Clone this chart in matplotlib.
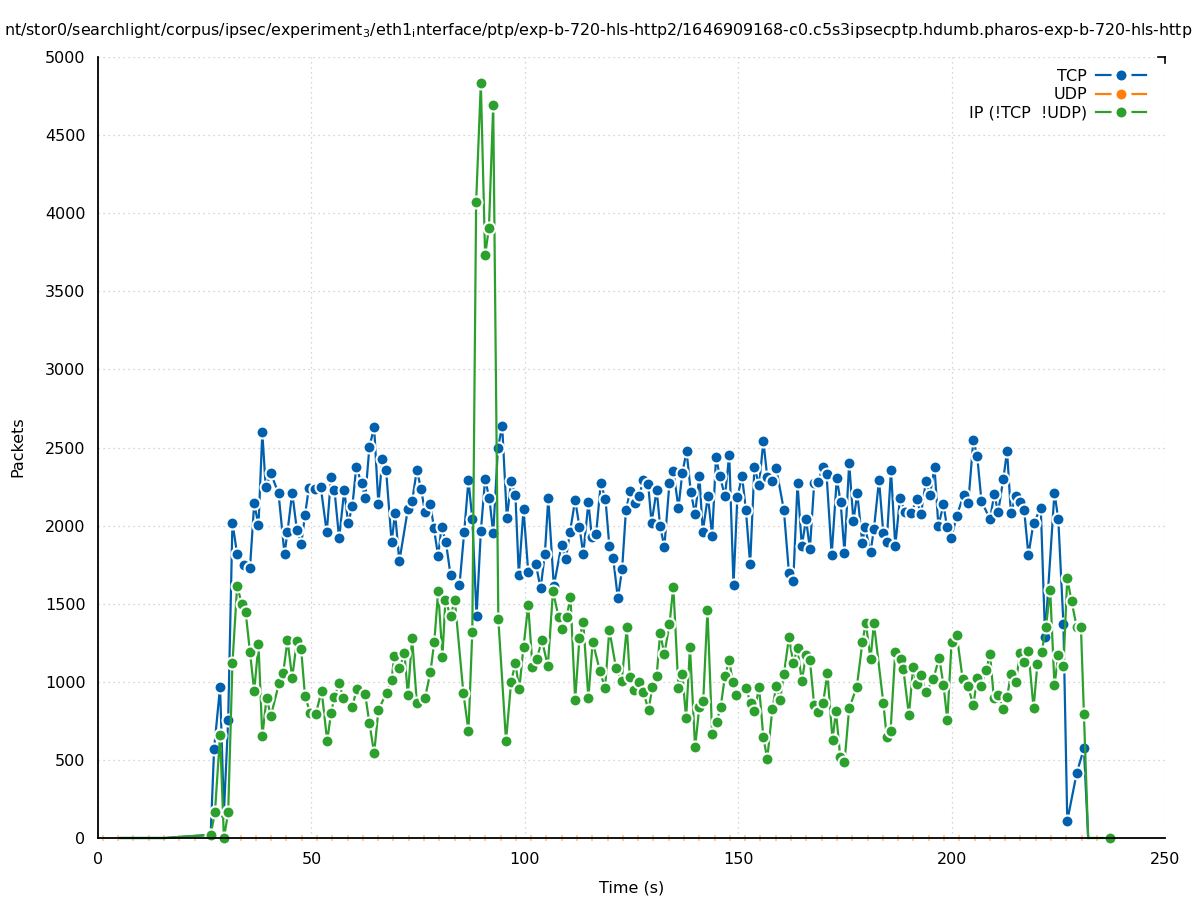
import matplotlib
matplotlib.use("Agg")
import matplotlib.pyplot as plt
from matplotlib.lines import Line2D
import numpy as np

# values (time in s, packets per sample)
tcp_t = [5.2, 15.7, 26.4, 27.2, 28.6, 29.5, 30.5, 31.5, 32.6, 34.1, 35.6, 36.6, 37.6, 38.5,
         39.3, 40.5, 42.3, 43.7, 44.4, 45.5, 46.6, 47.6, 48.5, 49.4, 50.8, 52.2, 53.6, 54.6,
         55.4, 56.5, 57.7, 58.6, 59.6, 60.5, 61.8, 62.6, 63.6, 64.7, 65.7, 66.6, 67.5, 68.8,
         69.6, 70.6, 72.6, 73.6, 74.7, 75.7, 76.6, 77.9, 78.7, 79.7, 80.5, 81.5, 82.6, 84.7,
         85.8, 86.8, 87.7, 88.7, 89.7, 90.7, 91.7, 92.6, 93.7, 94.7, 95.8, 96.8, 97.8, 98.6,
         99.7, 100.8, 102.6, 103.7, 104.7, 105.5, 106.8, 108.6, 109.6, 110.6, 111.8, 112.8,
         113.7, 114.9, 115.7, 116.7, 117.8, 118.9, 119.8, 120.7, 121.8, 122.8, 123.7, 124.7,
         125.8, 126.8, 127.8, 128.9, 129.7, 130.9, 131.7, 132.7, 133.9, 134.8, 136.0, 136.9,
         137.9, 138.9, 139.9, 140.9, 141.7, 142.9, 143.9, 144.8, 145.7, 146.9, 147.9, 148.9,
         149.8, 150.9, 151.8, 152.8, 153.8, 154.9, 155.9, 156.8, 158.0, 158.9, 160.7, 161.9,
         162.9, 163.9, 164.9, 165.9, 166.8, 167.8, 168.8, 169.8, 170.7, 171.9, 173.1, 174.0,
         174.9, 176.0, 177.0, 177.9, 179.1, 179.7, 181.0, 181.8, 183.0, 184.0, 184.8, 185.8,
         186.8, 187.9, 189.1, 190.6, 191.8, 192.8, 194.0, 194.9, 196.0, 196.9, 198.1, 198.9,
         199.9, 201.2, 202.8, 203.9, 205.1, 206.0, 207.0, 209.0, 210.0, 210.9, 212.1, 213.0,
         213.9, 215.0, 216.0, 217.0, 218.0, 219.2, 220.9, 221.9, 224.1, 225.0, 226.2, 227.1,
         229.3, 231.0, 232.0]
tcp_v = [0, 0, 20, 570, 967, 160, 753, 2019, 1818, 1748, 1726, 2142, 2002, 2597,
         2245, 2334, 2206, 1818, 1961, 2211, 1972, 1882, 2066, 2241, 2235, 2245, 1957, 2309,
         2228, 1918, 2228, 2014, 2125, 2373, 2270, 2177, 2505, 2629, 2136, 2424, 2356, 1893,
         2083, 1771, 2104, 2157, 2356, 2234, 2089, 2137, 1982, 1805, 1993, 1897, 1684, 1620,
         1957, 2292, 2040, 1421, 1965, 2296, 2174, 1950, 2495, 2638, 2046, 2285, 2196, 1684,
         2104, 1705, 1752, 1598, 1818, 2174, 1613, 1876, 1784, 1961, 2164, 1993,
         1818, 2149, 1929, 1944, 2270, 2170, 1871, 1795, 1534, 1720, 2100, 2221,
         2142, 2191, 2292, 2266, 2019, 2228, 1997, 1865, 2275, 2352, 2115, 2334,
         2477, 2213, 2074, 2320, 1961, 2189, 1935, 2437, 2317, 2189, 2452, 1620,
         2181, 2317, 2100, 1754, 2373, 2260, 2541, 2313, 2288, 2367, 2100, 1694,
         1645, 2270, 1871, 2040, 1850, 2270, 2281, 2377, 2330, 1812, 2302, 2149,
         1827, 2398, 2029, 2206, 1886, 1993, 1829, 1978, 2292, 1950, 1897, 2356,
         1869, 2174, 2089, 2083, 2170, 2072, 2285, 2196, 2373, 1997, 2136, 1993,
         1918, 2061, 2196, 2142, 2548, 2445, 2157, 2040, 2202, 2085, 2296, 2477,
         2078, 2189, 2153, 2100, 1812, 2019, 2110, 1290, 2211, 2040, 1370, 109,
         414, 574, 0]

ip_t = [5.2, 15.7, 26.4, 27.4, 28.6, 29.5, 30.5, 31.5, 32.6, 33.7, 34.6, 35.6, 36.6, 37.6,
        38.5, 39.5, 40.5, 42.4, 43.4, 44.4, 45.5, 46.6, 47.6, 48.5, 49.7, 51.0, 52.4, 53.7,
        54.6, 55.4, 56.5, 57.5, 59.6, 60.6, 62.6, 63.6, 64.7, 65.7, 67.6, 68.8, 69.4, 70.6,
        71.8, 72.6, 73.6, 74.7, 76.6, 77.9, 78.8, 79.7, 80.7, 81.4, 82.6, 83.6, 85.6, 86.8,
        87.7, 88.6, 89.7, 90.7, 91.6, 92.6, 93.8, 95.6, 96.8, 97.8, 98.7, 99.7, 100.8, 101.8,
        102.8, 104.0, 105.4, 106.6, 107.9, 108.8, 109.8, 110.7, 111.8, 112.8, 113.7, 114.9,
        115.9, 117.6, 118.8, 119.8, 121.4, 122.7, 123.9, 124.6, 125.7, 126.8, 127.8, 129.0,
        129.9, 130.9, 131.7, 132.7, 133.9, 134.8, 136.0, 136.9, 137.8, 138.7, 139.9, 140.9,
        141.8, 142.8, 143.9, 145.0, 145.9, 146.9, 147.9, 148.7, 149.6, 151.8, 152.9, 153.8,
        154.9, 155.9, 156.8, 158.0, 158.9, 159.8, 160.7, 161.9, 162.9, 163.9, 164.9, 165.9,
        166.8, 167.8, 168.8, 169.9, 170.9, 172.1, 172.9, 173.9, 174.9, 176.0, 177.8, 179.1,
        179.9, 181.0, 181.8, 184.0, 184.8, 185.7, 186.8, 188.1, 188.7, 190.0, 191.0, 191.8,
        192.8, 194.0, 195.7, 197.1, 198.1, 199.0, 200.0, 201.2, 202.6, 203.8, 205.1, 206.0,
        206.9, 208.1, 209.0, 209.9, 210.9, 212.1, 213.0, 213.9, 215.1, 216.0, 217.0, 218.0,
        219.2, 220.1, 221.1, 222.1, 223.1, 224.1, 225.0, 226.2, 227.1, 228.1, 229.3, 230.3,
        231.0, 232.0, 237.1]
ip_v = [0, 0, 21, 164, 659, 0, 164, 1118, 1613, 1498, 1445, 1193, 941, 1240,
        651, 898, 781, 990, 1058, 1267, 1026, 1261, 1208, 909, 802, 793, 941, 621,
        798, 905, 990, 894, 841, 952, 920, 734, 542, 819, 930, 1011, 1165, 1086,
        1182, 915, 1278, 866, 894, 1065, 1257, 1583, 1161, 1524, 1421, 1524, 930, 685,
        1321, 4072, 4834, 3732, 3905, 4693, 1400, 621, 1001, 1118, 952, 1225, 1489, 1097,
        1144, 1268, 1101, 1580, 1417, 1336, 1417, 1541, 883, 1278, 1381, 894,
        1257, 1069, 958, 1332, 1086, 1005, 1348, 1033, 947, 1001, 932, 819,
        969, 1037, 1310, 1178, 1368, 1609, 958, 1050, 766, 1221, 580, 841,
        877, 1460, 664, 745, 841, 1037, 1139, 1001, 915, 958, 866, 813,
        964, 644, 506, 824, 973, 883, 1048, 1285, 1122, 1214, 1005, 1171,
        1139, 851, 809, 866, 1054, 627, 813, 521, 484, 830, 969, 1253,
        1379, 1144, 1374, 866, 649, 685, 1193, 1144, 1080, 787, 1097, 986,
        1043, 932, 1016, 1154, 980, 755, 1257, 1300, 1016, 973, 851, 1022,
        973, 1075, 1178, 894, 915, 826, 903, 1050, 1001, 1182, 1129, 1199,
        830, 1112, 1189, 1349, 1588, 979, 1171, 1101, 1662, 1517, 1353, 1353,
        791, 0, 0]

# UDP samples are all zero
udp_t = np.arange(1.15, 236, 3.583)
udp_v = np.zeros(len(udp_t))

labels = ['TCP', 'UDP', 'IP (!TCP  !UDP)']
colours = ['#0060ad', '#ff7f0e', '#2ca02c']

W, H = 1197, 900
fig = plt.figure(figsize=(W / 100, H / 100), dpi=100)
ax = fig.add_axes([98 / W, 1 - 838 / H, (1165 - 98) / W, (838 - 57) / H])

# the idle samples at zero before the traffic starts and the closing zero are drawn without a dot
tcp_marks = [i for i, t in enumerate(tcp_t) if 20 < t < 231.5]
ip_marks = [i for i, t in enumerate(ip_t) if 20 < t < 231.5 or t > 235]

ax.plot(udp_t, udp_v, ls='none', marker='|', ms=5, mew=1.2, color='#ffc48c',
        clip_on=False, zorder=1)
ax.plot(tcp_t, tcp_v, color=colours[0], lw=1.6, marker='o', ms=8.6, markevery=tcp_marks,
        mfc=colours[0], mec='white', mew=1.5, clip_on=False, zorder=2)
ax.plot(ip_t, ip_v, color=colours[2], lw=1.6, marker='o', ms=8.6, markevery=ip_marks,
        mfc=colours[2], mec='white', mew=1.5, clip_on=False, zorder=2.1)

ax.set_xlim(0, 250)
ax.set_ylim(0, 5000)
ax.set_xticks(np.arange(0, 251, 50))
ax.set_yticks(np.arange(0, 5001, 500))
ax.grid(True, color='#c8c8c8', linestyle=(0, (1, 3)), linewidth=0.9)
ax.tick_params(length=0, labelsize=11.5, colors='black')
ax.tick_params(axis='y', pad=9)
ax.tick_params(axis='x', pad=10)
for s in ['top', 'right']:
    ax.spines[s].set_visible(False)
for s in ['left', 'bottom']:
    ax.spines[s].set_linewidth(1.3)
    ax.spines[s].set_zorder(3)

# little corner mark at top right
ax.plot([1 - 7 / 1067, 1], [1, 1], color='black', lw=1.2, transform=ax.transAxes, clip_on=False)
ax.plot([1, 1], [1, 1 - 6 / 781], color='black', lw=1.2, transform=ax.transAxes, clip_on=False)

ax.set_xlabel('Time (s)', fontsize=11.5, labelpad=10)
fig.text(18 / W, 1 - 447 / H, 'Packets', rotation=90, ha='center', va='center', fontsize=11.5)

title = (r'nt/stor0/searchlight/corpus/ipsec/experiment$_3$/eth1$_\mathregular{i}$nterface/ptp/'
         r'exp-b-720-hls-http2/1646909168-c0.c5s3ipsecptp.hdumb.pharos-exp-b-720-hls-http')
fig.text(0.5, 1 - 30 / H, title, ha='center', va='center', fontsize=11.4)

handles = [Line2D([], [], color=c, lw=1.6, marker='o', ms=10.8, mfc=c, mec='white', mew=3.6)
           for c in colours]
ax.legend(handles, labels, loc='upper right', bbox_to_anchor=(1146 / W, 1 - 69 / H),
          bbox_transform=fig.transFigure, frameon=False, markerfirst=False,
          handlelength=3.1, handletextpad=0.6, labelspacing=0.2, fontsize=11.5,
          borderpad=0, borderaxespad=0)

fig.savefig('out.png', dpi=100)
